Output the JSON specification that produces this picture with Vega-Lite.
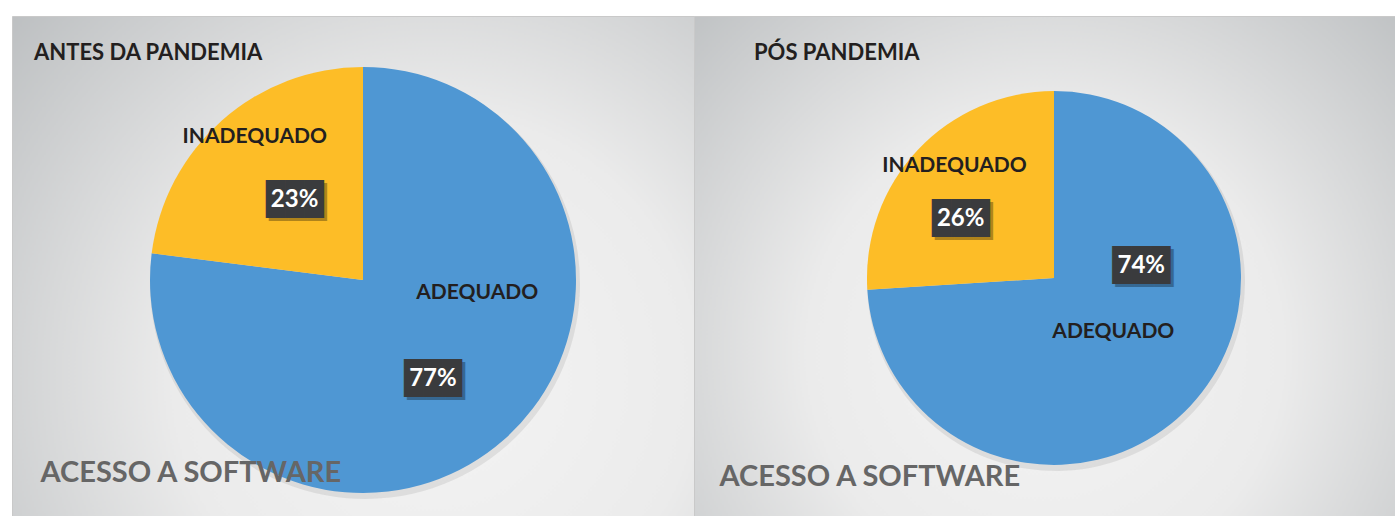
{
  "$schema": "https://vega.github.io/schema/vega-lite/v6.json",
  "autosize": {"type": "pad"},
  "padding": {"left": 11, "top": 15, "right": 0, "bottom": 0},
  "background": "#ffffff",
  "spacing": 0,
  "bounds": "flush",
  "datasets": {
    "before": [
      {"cat": "ADEQUADO", "pct": 0.77},
      {"cat": "INADEQUADO", "pct": 0.23}
    ],
    "after": [
      {"cat": "ADEQUADO", "pct": 0.74},
      {"cat": "INADEQUADO", "pct": 0.26}
    ]
  },
  "config": {
    "view": {"stroke": "#c9c9c9"},
    "arc": {"stroke": null}
  },
  "hconcat": [
    {
      "width": 682,
      "height": 501,
      "view": {
        "stroke": "#c9c9c9",
        "fill": {"gradient": "radial", "x1": 0.62, "y1": 0.66, "r1": 0, "x2": 0.62, "y2": 0.66, "r2": 0.85,
          "stops": [{"offset": 0, "color": "#f4f4f4"}, {"offset": 0.45, "color": "#ebebeb"}, {"offset": 1, "color": "#b9bcbe"}]}
      },
      "title": {"text": "ANTES DA PANDEMIA", "anchor": "start", "frame": "group", "orient": "top", "offset": 0, "dx": 22, "dy": 66, "baseline": "alphabetic", "font": "Lato", "fontSize": 22, "fontWeight": "bold", "color": "#231f20"},
      "data": {"name": "before"},
      "layer": [
        {"mark": {"type": "arc", "x": 353, "y": 268, "radius": 215, "fill": "#7a7a7a", "opacity": 0.16},
         "encoding": {"theta": {"field": "pct", "type": "quantitative", "stack": true}, "order": {"field": "cat", "type": "ordinal"}}},
        {"mark": {"type": "arc", "x": 351, "y": 264, "radius": 213},
         "encoding": {"theta": {"field": "pct", "type": "quantitative", "stack": true}, "order": {"field": "cat", "type": "ordinal"},
           "color": {"field": "cat", "type": "nominal", "scale": {"domain": ["ADEQUADO", "INADEQUADO"], "range": ["#4f97d3", "#fdbd27"]}, "legend": null}}},
        {"mark": {"type": "text", "x": 351, "y": 264, "radius": 178.7, "dx": 10, "dy": -9, "font": "Lato", "fontSize": 21, "fontWeight": "bold", "fill": "#231f20", "align": "center", "baseline": "middle"},
         "encoding": {"theta": {"field": "pct", "type": "quantitative", "stack": true}, "order": {"field": "cat", "type": "ordinal"},
           "text": {"condition": {"test": "datum.cat === 'INADEQUADO'", "field": "cat"}, "value": ""}}},
        {"mark": {"type": "text", "x": 351, "y": 264, "radius": 85.1, "dx": 58, "dy": -51, "font": "Lato", "fontSize": 21, "fontWeight": "bold", "fill": "#231f20", "align": "center", "baseline": "middle"},
         "encoding": {"theta": {"field": "pct", "type": "quantitative", "stack": true}, "order": {"field": "cat", "type": "ordinal"},
           "text": {"condition": {"test": "datum.cat === 'ADEQUADO'", "field": "cat"}, "value": ""}}},
        {"mark": {"type": "text", "x": 351, "y": 264, "radius": 105, "dx": 4, "dy": 2, "font": "DejaVu Sans Mono", "fontSize": 32, "fill": "#000000", "opacity": 0.3, "align": "center", "baseline": "middle"},
         "encoding": {"theta": {"field": "pct", "type": "quantitative", "stack": true}, "order": {"field": "cat", "type": "ordinal"},
           "text": {"condition": {"test": "datum.cat === 'INADEQUADO'", "value": "███"}, "value": ""}}},
        {"mark": {"type": "text", "x": 351, "y": 264, "radius": 105, "dx": 1, "dy": -1, "font": "DejaVu Sans Mono", "fontSize": 32, "fill": "#3a3b3d", "align": "center", "baseline": "middle"},
         "encoding": {"theta": {"field": "pct", "type": "quantitative", "stack": true}, "order": {"field": "cat", "type": "ordinal"},
           "text": {"condition": {"test": "datum.cat === 'INADEQUADO'", "value": "███"}, "value": ""}}},
        {"mark": {"type": "text", "x": 351, "y": 264, "radius": 105, "dx": 1, "dy": -1, "font": "Lato", "fontSize": 24, "fontWeight": "bold", "fill": "#ffffff", "align": "center", "baseline": "middle"},
         "encoding": {"theta": {"field": "pct", "type": "quantitative", "stack": true}, "order": {"field": "cat", "type": "ordinal"},
           "text": {"condition": {"test": "datum.cat === 'INADEQUADO'", "field": "pct", "format": ".0%"}, "value": ""}}},
        {"mark": {"type": "text", "x": 351, "y": 264, "radius": 120.9, "dx": -7, "dy": 11, "font": "DejaVu Sans Mono", "fontSize": 32, "fill": "#000000", "opacity": 0.3, "align": "center", "baseline": "middle"},
         "encoding": {"theta": {"field": "pct", "type": "quantitative", "stack": true}, "order": {"field": "cat", "type": "ordinal"},
           "text": {"condition": {"test": "datum.cat === 'ADEQUADO'", "value": "███"}, "value": ""}}},
        {"mark": {"type": "text", "x": 351, "y": 264, "radius": 120.9, "dx": -10, "dy": 8, "font": "DejaVu Sans Mono", "fontSize": 32, "fill": "#3a3b3d", "align": "center", "baseline": "middle"},
         "encoding": {"theta": {"field": "pct", "type": "quantitative", "stack": true}, "order": {"field": "cat", "type": "ordinal"},
           "text": {"condition": {"test": "datum.cat === 'ADEQUADO'", "value": "███"}, "value": ""}}},
        {"mark": {"type": "text", "x": 351, "y": 264, "radius": 120.9, "dx": -10, "dy": 8, "font": "Lato", "fontSize": 24, "fontWeight": "bold", "fill": "#ffffff", "align": "center", "baseline": "middle"},
         "encoding": {"theta": {"field": "pct", "type": "quantitative", "stack": true}, "order": {"field": "cat", "type": "ordinal"},
           "text": {"condition": {"test": "datum.cat === 'ADEQUADO'", "field": "pct", "format": ".0%"}, "value": ""}}},
        {"mark": {"type": "text", "opacity": 0},
         "encoding": {"x": {"field": "cat", "type": "nominal",
           "axis": {"orient": "bottom", "labels": false, "ticks": false, "domain": false, "grid": false, "zindex": 2, "title": "ACESSO A SOFTWARE", "titleAnchor": "start", "titleAlign": "left", "titleBaseline": "alphabetic", "titleX": 28, "titleY": -36, "titleFont": "Lato", "titleFontSize": 29, "titleFontWeight": "bold", "titleColor": "#666666"}},
           "text": {"value": ""}}}
      ]
    },
    {
      "width": 702,
      "height": 501,
      "view": {
        "stroke": "#c9c9c9",
        "fill": {"gradient": "radial", "x1": 0.5, "y1": 0.62, "r1": 0, "x2": 0.5, "y2": 0.62, "r2": 0.75,
          "stops": [{"offset": 0, "color": "#f4f4f4"}, {"offset": 0.45, "color": "#ebebeb"}, {"offset": 1, "color": "#b9bcbe"}]}
      },
      "title": {"text": "PÓS PANDEMIA", "anchor": "start", "frame": "group", "orient": "top", "offset": 0, "dx": 60, "dy": 66, "baseline": "alphabetic", "font": "Lato", "fontSize": 22, "fontWeight": "bold", "color": "#231f20"},
      "data": {"name": "after"},
      "layer": [
        {"mark": {"type": "arc", "x": 362, "y": 266, "radius": 189, "fill": "#7a7a7a", "opacity": 0.16},
         "encoding": {"theta": {"field": "pct", "type": "quantitative", "stack": true}, "order": {"field": "cat", "type": "ordinal"}}},
        {"mark": {"type": "arc", "x": 360, "y": 262, "radius": 187},
         "encoding": {"theta": {"field": "pct", "type": "quantitative", "stack": true}, "order": {"field": "cat", "type": "ordinal"},
           "color": {"field": "cat", "type": "nominal", "scale": {"domain": ["ADEQUADO", "INADEQUADO"], "range": ["#4f97d3", "#fdbd27"]}, "legend": null}}},
        {"mark": {"type": "text", "x": 360, "y": 262, "radius": 148.9, "dx": 9, "dy": -10, "font": "Lato", "fontSize": 21, "fontWeight": "bold", "fill": "#231f20", "align": "center", "baseline": "middle"},
         "encoding": {"theta": {"field": "pct", "type": "quantitative", "stack": true}, "order": {"field": "cat", "type": "ordinal"},
           "text": {"condition": {"test": "datum.cat === 'INADEQUADO'", "field": "cat"}, "value": ""}}},
        {"mark": {"type": "text", "x": 360, "y": 262, "radius": 80, "dx": 1, "dy": -1, "font": "Lato", "fontSize": 21, "fontWeight": "bold", "fill": "#231f20", "align": "center", "baseline": "middle"},
         "encoding": {"theta": {"field": "pct", "type": "quantitative", "stack": true}, "order": {"field": "cat", "type": "ordinal"},
           "text": {"condition": {"test": "datum.cat === 'ADEQUADO'", "field": "cat"}, "value": ""}}},
        {"mark": {"type": "text", "x": 360, "y": 262, "radius": 107.5, "dx": -12, "dy": 18, "font": "DejaVu Sans Mono", "fontSize": 32, "fill": "#000000", "opacity": 0.3, "align": "center", "baseline": "middle"},
         "encoding": {"theta": {"field": "pct", "type": "quantitative", "stack": true}, "order": {"field": "cat", "type": "ordinal"},
           "text": {"condition": {"test": "datum.cat === 'INADEQUADO'", "value": "███"}, "value": ""}}},
        {"mark": {"type": "text", "x": 360, "y": 262, "radius": 107.5, "dx": -15, "dy": 15, "font": "DejaVu Sans Mono", "fontSize": 32, "fill": "#3a3b3d", "align": "center", "baseline": "middle"},
         "encoding": {"theta": {"field": "pct", "type": "quantitative", "stack": true}, "order": {"field": "cat", "type": "ordinal"},
           "text": {"condition": {"test": "datum.cat === 'INADEQUADO'", "value": "███"}, "value": ""}}},
        {"mark": {"type": "text", "x": 360, "y": 262, "radius": 107.5, "dx": -15, "dy": 15, "font": "Lato", "fontSize": 24, "fontWeight": "bold", "fill": "#ffffff", "align": "center", "baseline": "middle"},
         "encoding": {"theta": {"field": "pct", "type": "quantitative", "stack": true}, "order": {"field": "cat", "type": "ordinal"},
           "text": {"condition": {"test": "datum.cat === 'INADEQUADO'", "field": "pct", "format": ".0%"}, "value": ""}}},
        {"mark": {"type": "text", "x": 360, "y": 262, "radius": 55.2, "dx": 50, "dy": -47, "font": "DejaVu Sans Mono", "fontSize": 32, "fill": "#000000", "opacity": 0.3, "align": "center", "baseline": "middle"},
         "encoding": {"theta": {"field": "pct", "type": "quantitative", "stack": true}, "order": {"field": "cat", "type": "ordinal"},
           "text": {"condition": {"test": "datum.cat === 'ADEQUADO'", "value": "███"}, "value": ""}}},
        {"mark": {"type": "text", "x": 360, "y": 262, "radius": 55.2, "dx": 47, "dy": -50, "font": "DejaVu Sans Mono", "fontSize": 32, "fill": "#3a3b3d", "align": "center", "baseline": "middle"},
         "encoding": {"theta": {"field": "pct", "type": "quantitative", "stack": true}, "order": {"field": "cat", "type": "ordinal"},
           "text": {"condition": {"test": "datum.cat === 'ADEQUADO'", "value": "███"}, "value": ""}}},
        {"mark": {"type": "text", "x": 360, "y": 262, "radius": 55.2, "dx": 47, "dy": -50, "font": "Lato", "fontSize": 24, "fontWeight": "bold", "fill": "#ffffff", "align": "center", "baseline": "middle"},
         "encoding": {"theta": {"field": "pct", "type": "quantitative", "stack": true}, "order": {"field": "cat", "type": "ordinal"},
           "text": {"condition": {"test": "datum.cat === 'ADEQUADO'", "field": "pct", "format": ".0%"}, "value": ""}}},
        {"mark": {"type": "text", "opacity": 0},
         "encoding": {"x": {"field": "cat", "type": "nominal",
           "axis": {"orient": "bottom", "labels": false, "ticks": false, "domain": false, "grid": false, "zindex": 2, "title": "ACESSO A SOFTWARE", "titleAnchor": "start", "titleAlign": "left", "titleBaseline": "alphabetic", "titleX": 25, "titleY": -32, "titleFont": "Lato", "titleFontSize": 29, "titleFontWeight": "bold", "titleColor": "#666666"}},
           "text": {"value": ""}}}
      ]
    }
  ]
}
